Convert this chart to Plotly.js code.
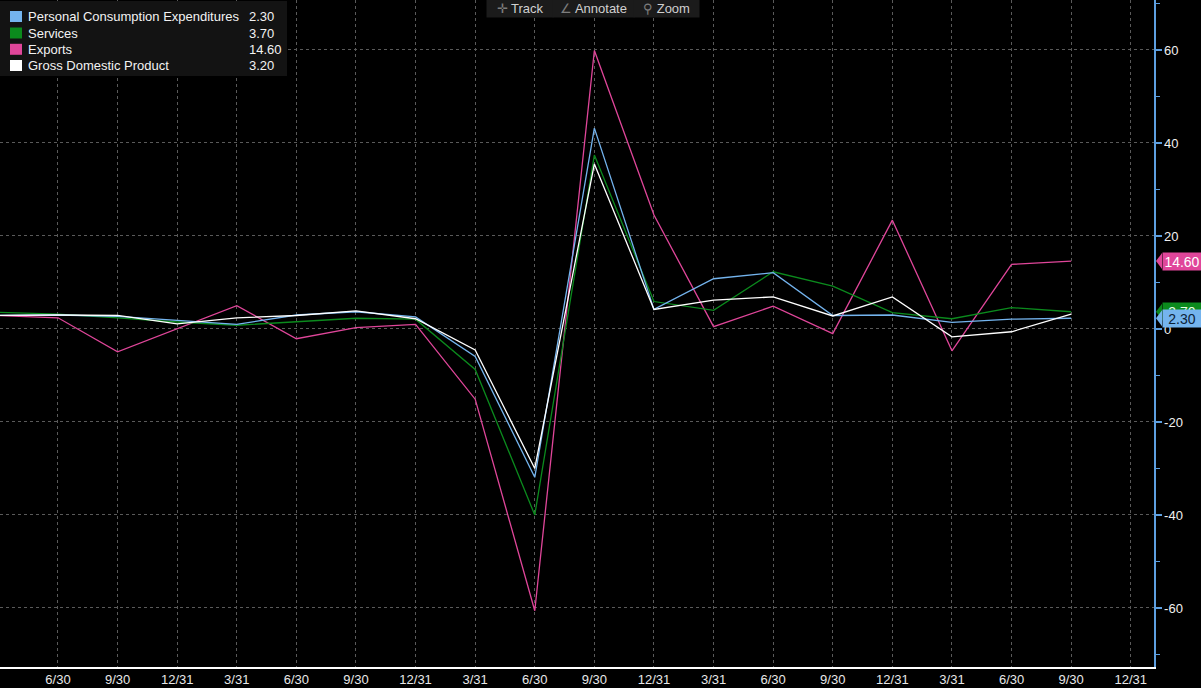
<!DOCTYPE html>
<html><head><meta charset="utf-8">
<script src="https://cdn.plot.ly/plotly-3.0.1.min.js"></script>
<style>html,body{margin:0;padding:0;background:#000;}#chart{width:1201px;height:688px;}</style>
</head><body><div id="chart"></div>
<script>
// Quarter ends (index 0 = first data point)
const quarterEnds = ["2018-03-31","2018-06-30","2018-09-30","2018-12-31","2019-03-31","2019-06-30","2019-09-30","2019-12-31",
  "2020-03-31","2020-06-30","2020-09-30","2020-12-31","2021-03-31","2021-06-30","2021-09-30","2021-12-31",
  "2022-03-31","2022-06-30","2022-09-30","2022-12-31"];
const tickLabels = quarterEnds.map(d => { const p = d.split('-'); return (+p[1]) + '/' + (+p[2]); });

const seriesNames = ["Personal Consumption Expenditures", "Services", "Exports", "Gross Domestic Product"];
const pce      = [2.9, 3.0, 2.7, 1.8, 1.0, 3.0, 3.7, 2.6, -5.9, -31.9, 43.2, 4.2, 10.8, 12.1, 2.9, 3.0, 1.4, 2.1, 2.3];
const services = [3.6, 3.2, 2.4, 1.5, 0.8, 1.6, 2.3, 2.1, -8.7, -40.0, 37.4, 5.9, 4.0, 12.3, 9.2, 3.5, 2.2, 4.6, 3.7];
const exportsS = [2.9, 2.4, -4.9, 0.1, 5.0, -2.1, 0.3, 1.0, -15.1, -60.6, 59.9, 24.5, 0.5, 4.9, -1.0, 23.4, -4.7, 13.9, 14.6];
const gdp      = [2.9, 3.0, 2.9, 1.1, 2.4, 2.9, 3.9, 2.2, -4.5, -30.0, 35.5, 4.2, 6.2, 6.9, 2.8, 6.9, -1.7, -0.6, 3.2];
const yTicks = [-60, -40, -20, 0, 20, 40, 60];
const toolbarLabels = ["Track", "Annotate", "Zoom"];

const FONT = "Liberation Sans, Arial, sans-serif";
const W = 1154, H = 667; // plot area in px
const px = x => x / W;
const py = y => 1 - y / H;

const C = {pce:'#74b4ee', svc:'#0b8a1d', exp:'#e0469a', gdp:'#ffffff'};
const series = [
  {name: seriesNames[0], y: pce, color: C.pce, label: '#0d2237'},
  {name: seriesNames[1], y: services, color: C.svc, label: '#e8ffe8'},
  {name: seriesNames[2], y: exportsS, color: C.exp, label: '#ffffff'},
  {name: seriesNames[3], y: gdp, color: C.gdp, label: '#000000'}
];
const xs = arr => arr.map((_, i) => i);

const drawOrder = [2, 1, 0, 3];
const traces = drawOrder.map(k => ({
  type: 'scatter', mode: 'lines', name: series[k].name,
  x: xs(series[k].y), y: series[k].y,
  line: {color: series[k].color, width: 1.3},
  hoverinfo: 'skip'
}));

const last = a => a[a.length - 1];
const shapes = [];
const annotations = [];

// Legend box
shapes.push({type:'rect', xref:'paper', yref:'paper', x0:px(0), x1:px(287), y0:py(76), y1:py(1),
  fillcolor:'#131313', line:{width:0}, layer:'above'});
const rowY = [16.5, 33, 49.3, 65.5];
series.forEach((s, i) => {
  shapes.push({type:'rect', xref:'paper', yref:'paper', x0:px(10), x1:px(22), y0:py(rowY[i]+5.5), y1:py(rowY[i]-5.5),
    fillcolor:s.color, line:{width:0}, layer:'above'});
  annotations.push({xref:'paper', yref:'paper', x:px(26), y:py(rowY[i]), xanchor:'left', yanchor:'middle',
    text:s.name, showarrow:false, font:{family:FONT, size:13, color:'#f2f2f2'}});
  annotations.push({xref:'paper', yref:'paper', x:px(247), y:py(rowY[i]), xanchor:'left', yanchor:'middle',
    text:last(s.y).toFixed(2), showarrow:false, font:{family:FONT, size:13, color:'#f2f2f2'}});
});

// Right-side value labels (services first so PCE covers it)
[1, 2, 0].forEach(k => {
  const s = series[k];
  const v = last(s.y);
  shapes.push({type:'path', xref:'paper', xsizemode:'pixel', xanchor:1, yref:'y', ysizemode:'pixel', yanchor:v,
    path:'M 2 0 L 8 8 L 8 -8 Z', fillcolor:s.color, line:{width:0}, layer:'above'});
  annotations.push({xref:'paper', yref:'y', x:1, y:v, xanchor:'left', yanchor:'middle', xshift:7.5,
    text:v.toFixed(2), showarrow:false, bgcolor:s.color, width:36, height:15, borderpad:1,
    font:{family:FONT, size:14, color:s.label}});
});

// Toolbar
const icons = ['\u271B', '\u2220', '\u26B2'];
const tbX = [[488, 552], [554, 633], [635, 698]];
toolbarLabels.forEach((t, i) => {
  annotations.push({xref:'paper', yref:'paper', x:px((tbX[i][0]+tbX[i][1])/2), y:py(8), xanchor:'center', yanchor:'middle',
    text:'<span style="color:#7d7d7d">' + icons[i] + '</span> ' + t, showarrow:false,
    bgcolor:'#1b1b1b', width:tbX[i][1]-tbX[i][0], height:16,
    font:{family:FONT, size:13, color:'#d0d0d0'}});
});

const tickIdx = tickLabels.map((_, i) => i).slice(1);

const layout = {
  width: 1201, height: 688,
  paper_bgcolor: '#000', plot_bgcolor: '#000',
  margin: {l: 0, r: 47, t: 0, b: 21, pad: 0},
  showlegend: false,
  xaxis: {
    range: [0.027, 19.39], tickmode: 'array', tickvals: tickIdx, ticktext: tickIdx.map(i => tickLabels[i]),
    showgrid: true, gridcolor: '#5a5a5a', griddash: 'dot', gridwidth: 1,
    showline: true, linecolor: '#ffffff', linewidth: 1.5, ticks: '', zeroline: false,
    tickfont: {family: FONT, size: 13, color: '#e8e8e8'}, fixedrange: true
  },
  yaxis: {
    side: 'right', range: [-72.7, 70.75], tickmode: 'array', tickvals: yTicks,
    ticktext: yTicks.map(v => String(v)),
    showgrid: true, gridcolor: '#5a5a5a', griddash: 'dot', gridwidth: 1,
    showline: true, linecolor: '#5d9fe0', linewidth: 1.5,
    ticks: 'outside', ticklen: 6, tickwidth: 2, tickcolor: '#5d9fe0',
    minor: {tickmode:'linear', tick0: 0, dtick: 10, ticks: 'outside', ticklen: 4, tickwidth: 1, tickcolor: '#5d9fe0', showgrid: false},
    zeroline: false, tickfont: {family: FONT, size: 13, color: '#f0f0f0'}, fixedrange: true
  },
  shapes: shapes,
  annotations: annotations
};

Plotly.newPlot('chart', traces, layout, {displayModeBar: false, staticPlot: true});
</script>
</body></html>
